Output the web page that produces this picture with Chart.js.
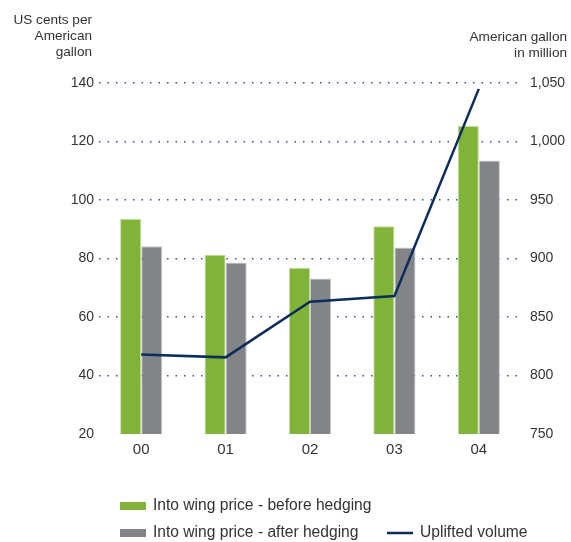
<!DOCTYPE html>
<html>
<head>
<meta charset="utf-8">
<script src="https://cdn.jsdelivr.net/npm/chart.js@4"></script>
<style>
  html, body { margin: 0; padding: 0; background: #fff; }
  #wrap { width: 571px; height: 542px; }
</style>
</head>
<body>
<div id="wrap"><canvas id="fuelChart" width="571" height="542"></canvas></div>
<script>
const years = ['00', '01', '02', '03', '04'];
const beforeHedging = [93.5, 81.3, 76.8, 91.0, 125.3];
const afterHedging = [84.2, 78.6, 73.2, 83.8, 113.5];
const upliftedVolume = [818, 815.5, 863, 868, 1045];

const leftTicks = [20, 40, 60, 80, 100, 120, 140];
const rightTicks = [750, 800, 850, 900, 950, 1000, 1050];

const green = '#80b337';
const grey = '#838488';
const navy = '#0b2d5b';
const textColor = '#333333';
const fontFamily = '"Liberation Sans", Arial, sans-serif';

// axis titles and the two-row legend are drawn by hand
const extras = {
  id: 'extras',
  afterDraw(chart) {
    const ctx = chart.ctx;
    ctx.save();
    ctx.fillStyle = textColor;
    ctx.font = '13.6px ' + fontFamily;
    ctx.textBaseline = 'middle';
    ctx.textAlign = 'right';
    ['US cents per', 'American', 'gallon'].forEach((t, i) => ctx.fillText(t, 92, 20 + i * 16));
    ['American gallon', 'in million'].forEach((t, i) => ctx.fillText(t, 567, 37 + i * 16));

    const ds = chart.data.datasets;
    const items = [
      { ds: ds[0], x: 120, y: 506 },
      { ds: ds[1], x: 120, y: 533 },
      { ds: ds[2], x: 387, y: 533 }
    ];
    ctx.textAlign = 'left';
    ctx.font = '15.6px ' + fontFamily;
    items.forEach(it => {
      if (it.ds.type === 'line') {
        ctx.strokeStyle = it.ds.borderColor;
        ctx.lineWidth = 2.5;
        ctx.beginPath();
        ctx.moveTo(it.x, it.y);
        ctx.lineTo(it.x + 26, it.y);
        ctx.stroke();
      } else {
        ctx.fillStyle = it.ds.backgroundColor;
        ctx.fillRect(it.x, it.y - 4, 26, 8);
      }
      ctx.fillStyle = textColor;
      ctx.fillText(it.ds.label, it.x + 33, it.y);
    });
    ctx.restore();
  }
};

const ctx = document.getElementById('fuelChart').getContext('2d');
const fuelChart = new Chart(ctx, {
  type: 'bar',
  data: {
    labels: years,
    datasets: [{
      label: 'Into wing price - before hedging',
      data: beforeHedging,
      backgroundColor: green,
      borderColor: '#c3dca0',
      borderWidth: 1,
      yAxisID: 'y',
      order: 2
    }, {
      label: 'Into wing price - after hedging',
      data: afterHedging,
      backgroundColor: grey,
      borderColor: '#c8c8ca',
      borderWidth: 1,
      yAxisID: 'y',
      order: 2
    }, {
      type: 'line',
      label: 'Uplifted volume',
      data: upliftedVolume,
      borderColor: navy,
      backgroundColor: navy,
      borderWidth: 2.5,
      pointRadius: 0,
      tension: 0,
      yAxisID: 'y1',
      order: 1
    }]
  },
  options: {
    responsive: false,
    animation: false,
    layout: { padding: { top: 83, bottom: 78, left: 0, right: 0 } },
    datasets: {
      bar: { categoryPercentage: 0.5, barPercentage: 1 }
    },
    plugins: {
      legend: { display: false },
      tooltip: { enabled: false }
    },
    scales: {
      x: {
        grid: { display: false, drawTicks: false },
        border: { display: false },
        ticks: { color: textColor, font: { family: fontFamily, size: 15 }, padding: 7 },
        afterFit(s) { s.height = 30; }
      },
      y: {
        position: 'left',
        min: 20,
        max: 140,
        afterBuildTicks(s) { s.ticks = leftTicks.map(v => ({ value: v })); },
        grid: {
          color: c => c.tick && c.tick.value === 20 ? 'rgba(0,0,0,0)' : '#2f5288',
          lineWidth: 1.5,
          drawTicks: false
        },
        border: { display: false, dash: [1.5, 7] },
        ticks: { color: textColor, font: { family: fontFamily, size: 14 }, padding: 5 },
        afterFit(s) { s.width = 99; }
      },
      y1: {
        position: 'right',
        min: 750,
        max: 1050,
        afterBuildTicks(s) { s.ticks = rightTicks.map(v => ({ value: v })); },
        grid: { display: false, drawTicks: false },
        border: { display: false },
        ticks: {
          color: textColor,
          font: { family: fontFamily, size: 14 },
          padding: 9,
          callback: v => v.toLocaleString('en-US')
        },
        afterFit(s) { s.width = 50; }
      }
    }
  },
  plugins: [extras]
});
</script>
</body>
</html>
